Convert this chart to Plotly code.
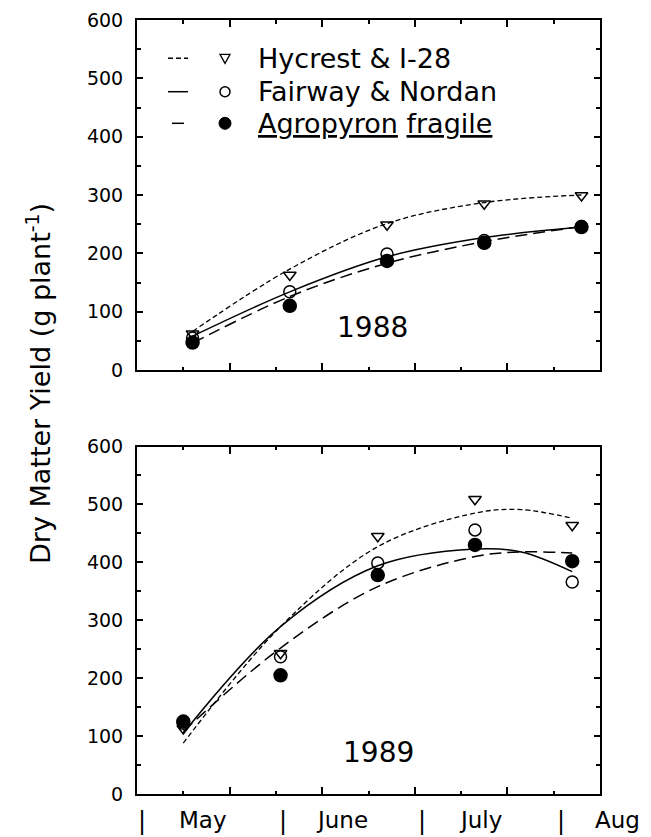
import plotly.graph_objects as go

W, H = 651, 837
L, R, T, B = 137, 51, 20, 43
PW, PH = W - L - R, H - T - B

# ---- data (x = days after 30 April) ----
days_1988 = [12, 33, 54, 75, 96]
hycrest_1988 = [62, 163, 249, 285, 299]
fairway_1988 = [55, 134, 199, 222, 246]
fragile_1988 = [47, 110, 187, 218, 245]

days_1989 = [10, 31, 52, 73, 94]
hycrest_1989 = [113, 243, 445, 509, 464]
fairway_1989 = [122, 237, 399, 456, 366]
fragile_1989 = [125, 205, 378, 430, 402]

# fitted curves
fit_days_1988 = [12, 33, 54, 75, 96]
fit_hycrest_1988 = [66, 173, 251, 287, 300]
fit_fairway_1988 = [58, 134, 194, 227, 245]
fit_fragile_1988 = [46, 126, 183, 220, 246]

fit_days_1989 = [10, 31, 52, 73, 83, 94]
fit_hycrest_1989 = [88, 289, 427, 485, 491, 476]
fit_fairway_1989 = [105, 289, 394, 423, 418, 384]
fit_fragile_1989 = [108, 252, 358, 410, 418, 416]

series_names = ["Hycrest & I-28", "Fairway & Nordan", "<u>Agropyron</u> <u>fragile</u>"]
month_names = ["May", "June", "July", "Aug"]
year_labels = ["1988", "1989"]

# label placement (pixels in the 651x837 picture)
month_label_px = [203, 342, 480, 617]
month_sep_px = [141.5, 282.5, 421.5, 560.5]

FONT = "DejaVu Sans"
dash_short = "5px,3px"
dash_long = "12px,6px"

styles = [
    dict(dash=dash_short, symbol="triangle-down-open", size=11, lw=1.3),
    dict(dash="solid", symbol="circle-open", size=12, lw=1.5),
    dict(dash=dash_long, symbol="circle", size=13, lw=1.5),
]

fig = go.Figure()

panels = [
    ("x", "y", days_1988, [hycrest_1988, fairway_1988, fragile_1988],
     fit_days_1988, [fit_hycrest_1988, fit_fairway_1988, fit_fragile_1988]),
    ("x2", "y2", days_1989, [hycrest_1989, fairway_1989, fragile_1989],
     fit_days_1989, [fit_hycrest_1989, fit_fairway_1989, fit_fragile_1989]),
]

for xa, ya, dd, vals, fd, fits in panels:
    for st, fv in zip(styles, fits):
        fig.add_trace(go.Scatter(x=fd, y=fv, mode="lines", xaxis=xa, yaxis=ya,
                                 line=dict(color="black", width=st["lw"], dash=st["dash"], shape="spline"),
                                 showlegend=False, hoverinfo="skip"))
    for st, v in zip(styles, vals):
        fig.add_trace(go.Scatter(x=dd, y=v, mode="markers", xaxis=xa, yaxis=ya,
                                 marker=dict(symbol=st["symbol"], size=st["size"], color="black",
                                             line=dict(color="black", width=1.5)),
                                 showlegend=False, hoverinfo="skip"))

def px2x(px):
    return (px - L) / PW

def py2y(py):
    return (H - B - py) / PH

top_bottom_px = 370
bot_top_px = 446.5

xax = dict(range=[0, 100], tick0=0, dtick=20, ticks="inside", ticklen=7, tickwidth=1.5,
           tickcolor="black", showticklabels=False, showline=True, linecolor="black",
           linewidth=2, mirror="ticks", showgrid=False, zeroline=False, automargin=False,
           minor=dict(dtick=10, tick0=0, ticks="inside", ticklen=3.5, tickwidth=1.5, tickcolor="black"))
yax = dict(range=[0, 600], tick0=0, dtick=100, ticks="inside", ticklen=6, tickwidth=1.5,
           tickcolor="black", showline=True, linecolor="black", linewidth=2, mirror="ticks",
           showgrid=False, zeroline=False, ticklabelstandoff=8, automargin=False,
           tickfont=dict(family=FONT, size=19, color="black"),
           minor=dict(dtick=50, tick0=0, ticks="inside", ticklen=4, tickwidth=1.5, tickcolor="black"))

fig.update_layout(
    width=W, height=H,
    margin=dict(l=L, r=R, t=T, b=B, autoexpand=False),
    paper_bgcolor="white", plot_bgcolor="white",
    showlegend=False,
    xaxis=dict(xax, anchor="y", domain=[0, 1]),
    yaxis=dict(yax, anchor="x", domain=[py2y(top_bottom_px), 1]),
    xaxis2=dict(xax, anchor="y2", domain=[0, 1]),
    yaxis2=dict(yax, anchor="x2", domain=[0, py2y(bot_top_px)]),
)

ann = []
# year labels
ann.append(dict(x=50.9, y=73, xref="x", yref="y", text=year_labels[0], showarrow=False,
                xanchor="center", yanchor="middle",
                font=dict(family=FONT, size=28, color="black")))
ann.append(dict(x=52.2, y=71, xref="x2", yref="y2", text=year_labels[1], showarrow=False,
                xanchor="center", yanchor="middle",
                font=dict(family=FONT, size=28, color="black")))
# month labels & separators
for name, mx in zip(month_names, month_label_px):
    ann.append(dict(x=px2x(mx), y=py2y(820), xref="paper", yref="paper", text=name, showarrow=False,
                    xanchor="center", yanchor="middle",
                    font=dict(family=FONT, size=23, color="black")))
for sx in month_sep_px:
    ann.append(dict(x=px2x(sx), y=py2y(821), xref="paper", yref="paper", text="|", showarrow=False,
                    xanchor="center", yanchor="middle",
                    font=dict(family=FONT, size=24, color="black")))
# y title
ann.append(dict(x=px2x(38), y=py2y(384), xref="paper", yref="paper", textangle=-90,
                xanchor="center", yanchor="middle",
                text="Dry Matter Yield (g plant<sup>-1</sup>)", showarrow=False,
                font=dict(family=FONT, size=27, color="black")))

# legend
rows_y = [58.3, 91.7, 123.3]
shapes = []
for st, name, ry in zip(styles, series_names, rows_y):
    x0, x1 = (168, 188) if st["dash"] != dash_long else (172, 189)
    shapes.append(dict(type="line", xref="paper", yref="paper",
                       x0=px2x(x0), x1=px2x(x1), y0=py2y(ry), y1=py2y(ry),
                       line=dict(color="black", width=1.5, dash=st["dash"])))
    ann.append(dict(x=px2x(256), y=py2y(ry), xref="paper", yref="paper", text=name,
                    xanchor="left", yanchor="middle", showarrow=False,
                    font=dict(family=FONT, size=27, color="black")))

ax, r = px2x(225), 5
# triangle-down open
shapes.append(dict(type="path", xref="paper", yref="paper", xsizemode="pixel", ysizemode="pixel",
                   xanchor=ax, yanchor=py2y(rows_y[0]),
                   path="M -5,4 L 5,4 L 0,-5 Z", line=dict(color="black", width=1.3)))
shapes.append(dict(type="circle", xref="paper", yref="paper", xsizemode="pixel", ysizemode="pixel",
                   xanchor=ax, yanchor=py2y(rows_y[1]), x0=-r, x1=r, y0=-r, y1=r,
                   line=dict(color="black", width=1.5)))
shapes.append(dict(type="circle", xref="paper", yref="paper", xsizemode="pixel", ysizemode="pixel",
                   xanchor=ax, yanchor=py2y(rows_y[2]), x0=-6, x1=6, y0=-6, y1=6,
                   fillcolor="black", line=dict(color="black", width=1)))

fig.update_layout(annotations=ann, shapes=shapes)
fig.write_html("out.html", config={"displayModeBar": False},
               post_script="document.body.style.margin='0px';document.body.style.overflow='hidden';")
